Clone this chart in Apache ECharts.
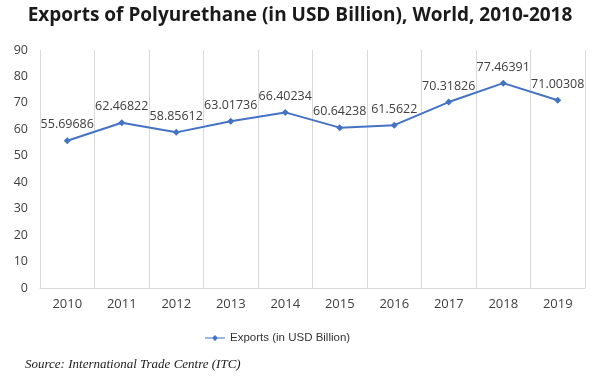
<!DOCTYPE html>
<html><head><meta charset="utf-8">
<script src="https://cdn.jsdelivr.net/npm/echarts@6/dist/echarts.min.js"></script>
<style>html,body{margin:0;padding:0;background:#fff}#c{width:600px;height:378px}</style>
</head><body><div id="c"></div>
<script>
var years = ['2010','2011','2012','2013','2014','2015','2016','2017','2018','2019'];
var exportsValues = [55.69686, 62.46822, 58.85612, 63.01736, 66.40234, 60.64238, 61.5622, 70.31826, 77.46391, 71.00308];
var seriesName = 'Exports (in USD Billion)';
var titleText = 'Exports of Polyurethane (in USD Billion), World, 2010-2018';
var sourceText = 'Source: International Trade Centre (ITC)';

var chart = echarts.init(document.getElementById('c'), null, {renderer: 'canvas'});
chart.setOption({
  animation: false,
  backgroundColor: '#fff',
  title: {
    text: titleText, left: 'center', top: 1,
    textStyle: {fontFamily: 'Open Sans', fontWeight: 'bold', fontSize: 19, color: '#1a1a1a'}
  },
  grid: {left: 40, right: 15, top: 50, bottom: 90},
  legend: {
    bottom: 29, left: 200, itemWidth: 20, itemHeight: 6, itemGap: 2,
    textStyle: {fontFamily: 'Liberation Sans', fontSize: 11.5, color: '#333'},
    data: [{name: seriesName, icon: 'path://M0,3 L20,3 L20,4 L0,4 Z M10,0.5 L13,3.5 L10,6.5 L7,3.5 Z'}]
  },
  xAxis: {
    type: 'category', data: years, boundaryGap: true,
    axisLine: {lineStyle: {color: '#d9d9d9'}},
    axisTick: {show: false},
    splitLine: {show: true, lineStyle: {color: '#d9d9d9'}},
    axisLabel: {fontFamily: 'Open Sans', fontSize: 13, color: '#404040', margin: 10}
  },
  yAxis: {
    type: 'value', min: 0, max: 90, interval: 10,
    axisLine: {show: false}, axisTick: {show: false},
    splitLine: {show: false},
    axisLabel: {fontFamily: 'Open Sans', fontSize: 12.5, color: '#404040', margin: 12}
  },
  series: [{
    name: seriesName, type: 'line', data: exportsValues,
    symbol: 'diamond', symbolSize: 7,
    lineStyle: {color: '#4472C4', width: 2},
    itemStyle: {color: '#4472C4'},
    label: {show: true, position: 'top', distance: 6, fontFamily: 'Open Sans', fontSize: 12.5, color: '#404040',
      formatter: function(p){ return String(p.value); }}
  }],
  graphic: [{
    type: 'text', left: 25, top: 358,
    style: {text: sourceText, fontFamily: 'Liberation Serif', fontStyle: 'italic', fontSize: 13, fill: '#1a1a1a'}
  }]
});
</script></body></html>
